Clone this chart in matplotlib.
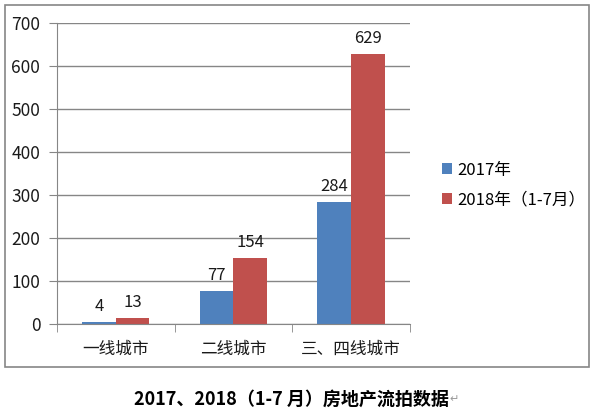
import matplotlib
matplotlib.use('Agg')
import matplotlib.pyplot as plt
from matplotlib.patches import Rectangle
import numpy as np

plt.rcParams['font.family'] = ['Noto Sans CJK SC', 'DejaVu Sans']

# 数据
categories = ['一线城市', '二线城市', '三、四线城市']
series_names = ['2017年', '2018年（1-7月）']
vals_2017 = [4, 77, 284]
vals_2018 = [13, 154, 629]
caption = '2017、2018（1-7 月）房地产流拍数据'

blue = '#4F81BD'
red = '#C0504D'
gray = '#868686'

fig = plt.figure(figsize=(6, 4.13), dpi=100)
ax = fig.add_axes([0.095, 0.2155, 0.588, 0.7285])

x = np.arange(len(categories))
w = 0.286
b1 = ax.bar(x - w / 2, vals_2017, w, color=blue, label=series_names[0])
b2 = ax.bar(x + w / 2, vals_2018, w, color=red, label=series_names[1])

for bars, vals in [(b1, vals_2017), (b2, vals_2018)]:
    for rect, v in zip(bars, vals):
        ax.annotate(str(v), (rect.get_x() + rect.get_width() / 2, v),
                    xytext=(0, 5), textcoords='offset points',
                    ha='center', va='bottom', fontsize=12, color='#1a1a1a')

ax.set_xlim(-0.5, 2.5)
ax.set_ylim(0, 700)
ax.set_yticks(range(0, 701, 100))
ax.yaxis.grid(True, color=gray, linewidth=1)
ax.set_axisbelow(True)

ax.set_xticks(x)
ax.set_xticklabels(categories, fontsize=12)
ax.set_xticks(np.arange(-0.5, 2.6, 1), minor=True)
ax.tick_params(axis='x', which='major', length=0, pad=12, colors='#1a1a1a')
ax.tick_params(axis='x', which='minor', length=6, color=gray)
ax.tick_params(axis='y', length=6, color=gray, labelsize=12.5, labelcolor='#1a1a1a', pad=6)

for s in ['top', 'right']:
    ax.spines[s].set_visible(False)
for s in ['left', 'bottom']:
    ax.spines[s].set_color(gray)

leg = fig.legend(loc='center left', bbox_to_anchor=(0.722, 0.552), frameon=False,
                 fontsize=12, handlelength=0.65, handleheight=0.65,
                 handletextpad=0.3, labelspacing=0.75, borderpad=0)

# 图表边框
fig.patches.append(Rectangle((0.0083, 0.111), 0.9737, 0.877, transform=fig.transFigure,
                             fill=False, edgecolor=gray, linewidth=1.2))

cap = fig.text(0.485, 0.034, caption, ha='center', va='center', fontsize=13,
               fontweight='bold', color='black')
ax.annotate('↵', xy=(1, 0.5), xycoords=cap, xytext=(1, 0), textcoords='offset points',
            ha='left', va='center', fontsize=8, color='#999999',
            family='DejaVu Sans', annotation_clip=False)

fig.savefig('out.png', dpi=100)
